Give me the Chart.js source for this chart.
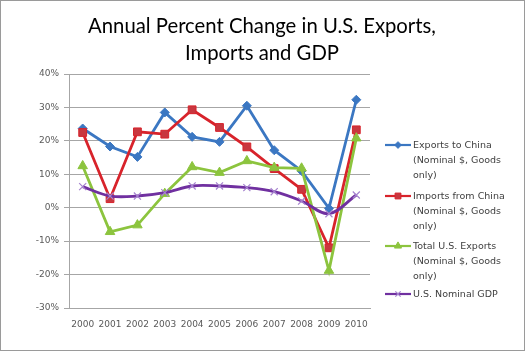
<!DOCTYPE html>
<html><head><meta charset="utf-8">
<script src="https://cdn.jsdelivr.net/npm/chart.js@4"></script>
<style>
html,body{margin:0;padding:0;background:#fff;}
#wrap{position:absolute;left:0;top:0;width:523px;height:349px;border:1px solid #9a9a9a;}
canvas{display:block;}
</style></head><body>
<div id="wrap"><canvas id="c" width="523" height="349"></canvas></div>
<script>
const years = ['2000','2001','2002','2003','2004','2005','2006','2007','2008','2009','2010'];
const exportsToChina = [23.7, 18.3, 15.2, 28.5, 21.2, 19.7, 30.5, 17.2, 11.0, -0.2, 32.3];
const importsFromChina = [22.5, 2.7, 22.7, 22.0, 29.3, 24.0, 18.2, 11.7, 5.5, -12.0, 23.3];
const totalUSExports = [12.5, -7.2, -5.2, 4.2, 12.2, 10.5, 14.0, 12.0, 11.8, -18.8, 20.8];
const usNominalGDP = [6.3, 3.5, 3.5, 4.5, 6.5, 6.5, 6.0, 4.8, 2.0, -1.8, 3.8];
const legendLines = [
  ['Exports to China', '(Nominal $, Goods', 'only)'],
  ['Imports from China', '(Nominal $, Goods', 'only)'],
  ['Total U.S. Exports', '(Nominal $, Goods', 'only)'],
  ['U.S. Nominal GDP']
];
const titleLines = ['Annual Percent Change in U.S. Exports,', 'Imports and GDP'];

const decorPlugin = {
  id: 'decor',
  afterDraw(chart) {
    const ctx = chart.ctx;
    ctx.save();
    // title
    ctx.font = '20.3px Lato';
    ctx.fillStyle = '#000';
    ctx.textAlign = 'center';
    ctx.textBaseline = 'alphabetic';
    titleLines.forEach((t, k) => ctx.fillText(t, 261, 32 + k * 26.5));
    // legend
    const x0 = 384, x1 = 410, tx = 412;
    const ys = [144, 195, 245, 293];
    ctx.textAlign = 'left';
    ctx.font = '9.5px "DejaVu Sans"';
    ctx.textBaseline = 'middle';
    chart.data.datasets.forEach((ds, i) => {
      const y = ys[i];
      ctx.strokeStyle = ds.borderColor;
      ctx.lineWidth = 2.2;
      ctx.beginPath(); ctx.moveTo(x0, y); ctx.lineTo(x1, y); ctx.stroke();
      ctx.fillStyle = ds.pointBackgroundColor;
      ctx.strokeStyle = ds.pointBorderColor;
      ctx.lineWidth = ds.pointBorderWidth;
      Chart.helpers.drawPoint(ctx, {
        pointStyle: ds.pointStyle, radius: ds.pointRadius * 0.75, rotation: 0, borderWidth: ds.pointBorderWidth
      }, (x0 + x1) / 2, y);
      ctx.fillStyle = '#404040';
      legendLines[i].forEach((t, k) => ctx.fillText(t, tx, y + 1 + k * 14.7));
    });
    ctx.restore();
  }
};

new Chart(document.getElementById('c'), {
  type: 'line',
  data: {
    labels: years,
    datasets: [
      { label: legendLines[0].join(' '), data: exportsToChina, borderColor: '#3b77c2', borderWidth: 2.8,
        pointStyle: 'rectRot', pointRadius: 4.5, pointBackgroundColor: '#3b77c2', pointBorderColor: '#3b77c2', pointBorderWidth: 1, order: 4, tension: 0 },
      { label: legendLines[1].join(' '), data: importsFromChina, borderColor: '#d8232b', borderWidth: 2.8,
        pointStyle: 'rect', pointRadius: 5.5, pointBackgroundColor: '#c8373f', pointBorderColor: '#d8232b', pointBorderWidth: 1, order: 3, tension: 0 },
      { label: legendLines[2].join(' '), data: totalUSExports, borderColor: '#8cc43e', borderWidth: 2.8,
        pointStyle: 'triangle', pointRadius: 5.5, pointBackgroundColor: '#8cc43e', pointBorderColor: '#8cc43e', pointBorderWidth: 1, order: 2, tension: 0 },
      { label: legendLines[3].join(' '), data: usNominalGDP, borderColor: '#7030a0', borderWidth: 2.8,
        pointStyle: 'crossRot', pointRadius: 5, pointBackgroundColor: '#a683cf', pointBorderColor: '#a683cf', pointBorderWidth: 1.2, order: 1, tension: 0.35 }
    ]
  },
  options: {
    responsive: false,
    animation: false,
    layout: { padding: { left: 0, right: 154, top: 73, bottom: 0 } },
    plugins: {
      legend: { display: false },
      tooltip: { enabled: false },
      title: { display: false }
    },
    scales: {
      x: {
        offset: true,
        grid: { display: false },
        border: { display: true, color: '#a6a6a6', width: 1 },
        ticks: { color: '#595959', font: { family: 'DejaVu Sans', size: 9 }, padding: 3, maxRotation: 0, autoSkip: false },
        afterFit(s) { s.height = 42; }
      },
      y: {
        min: -30, max: 40,
        ticks: { stepSize: 10, color: '#595959', font: { family: 'DejaVu Sans', size: 9 }, padding: 5,
                 callback: v => v + '%' },
        grid: { color: '#a6a6a6', lineWidth: 1, tickLength: 5 },
        border: { display: true, color: '#a6a6a6', width: 1 },
        afterFit(s) { s.width = 68; }
      }
    }
  },
  plugins: [decorPlugin]
});
</script>
</body></html>
